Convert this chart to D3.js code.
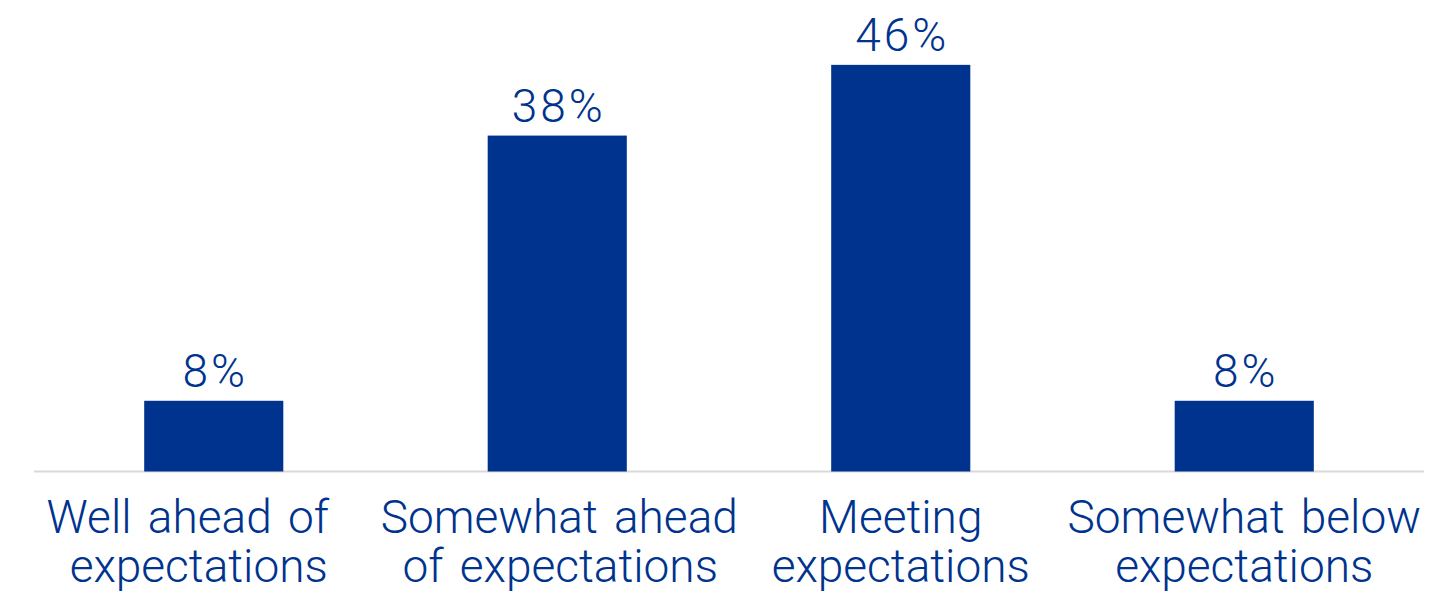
<!DOCTYPE html>
<html>
<head>
<meta charset="utf-8">
<script src="https://cdn.jsdelivr.net/npm/d3@7/dist/d3.min.js"></script>
<style>
  html, body { margin: 0; padding: 0; background: #ffffff; }
  svg { display: block; }
  text { font-family: Roboto, "Liberation Sans", sans-serif; font-weight: 300; fill: #00338d; }
</style>
</head>
<body>
<svg id="chart" width="1430" height="596"></svg>
<script>
// Share of respondents by progress against expectations
const categories = ["Well ahead of expectations", "Somewhat ahead of expectations", "Meeting expectations", "Somewhat below expectations"];
const categoryLines = [["Well ahead of", "expectations"], ["Somewhat ahead", "of expectations"], ["Meeting", "expectations"], ["Somewhat below", "expectations"]];
const values = [8, 38, 46, 8];
const valueLabels = ["8%", "38%", "46%", "8%"];

// Small horizontal nudges for each wrapped label line
const lineShift = [[-26, -15], [2, 3], [0, 0], [0, 0]];

const svg = d3.select("#chart");
const baseY = 471.5;

const x = d3.scaleBand()
  .domain(categories)
  .range([42, 1416])
  .paddingInner(0.595)
  .paddingOuter(0.2975);

const y = d3.scaleLinear()
  .domain([0, 50])
  .range([baseY, baseY - 442]);

// baseline
svg.append("line")
  .attr("x1", 34).attr("x2", 1424)
  .attr("y1", baseY).attr("y2", baseY)
  .attr("stroke", "#d9d9d9")
  .attr("stroke-width", 2);

// bars
svg.selectAll("rect.bar")
  .data(values)
  .join("rect")
  .attr("class", "bar")
  .attr("x", (d, i) => x(categories[i]))
  .attr("width", x.bandwidth())
  .attr("y", d => y(d))
  .attr("height", d => y(0) - y(d))
  .attr("fill", "#00338d");

// value labels
svg.selectAll("text.value")
  .data(values)
  .join("text")
  .attr("class", "value")
  .attr("x", (d, i) => x(categories[i]) + x.bandwidth() / 2 + 1.5)
  .attr("y", d => y(d) - 14)
  .attr("text-anchor", "middle")
  .style("font-size", "46px")
  .style("letter-spacing", "3px")
  .text((d, i) => valueLabels[i]);

// category labels, two lines each
const cat = svg.selectAll("text.cat")
  .data(categoryLines)
  .join("text")
  .attr("class", "cat")
  .attr("text-anchor", "middle")
  .style("font-size", "46px")
  .style("word-spacing", "5px");

cat.selectAll("tspan")
  .data((lines, i) => lines.map((t, j) => ({ t, i, j })))
  .join("tspan")
  .attr("x", d => x(categories[d.i]) + x.bandwidth() / 2 + lineShift[d.i][d.j])
  .attr("y", d => baseY + 61.5 + d.j * 49)
  .text(d => d.t);
</script>
</body>
</html>
